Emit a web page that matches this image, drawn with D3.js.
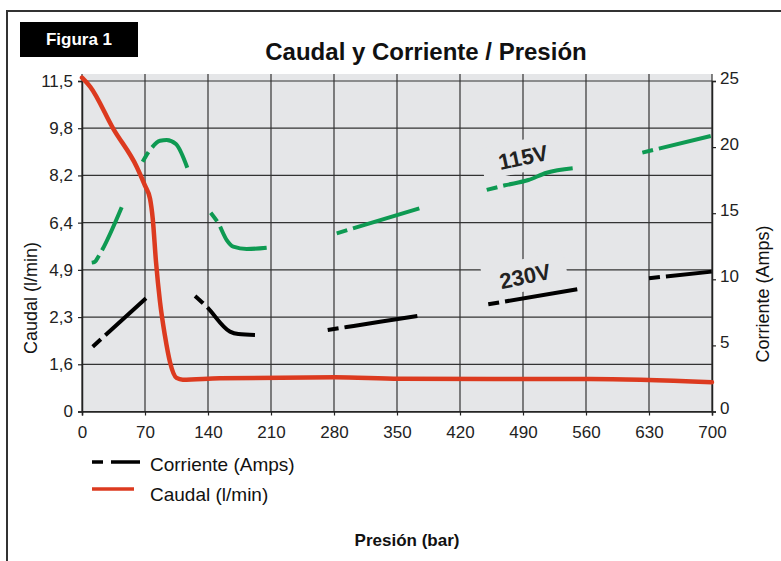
<!DOCTYPE html>
<html>
<head>
<meta charset="utf-8">
<script src="https://cdn.jsdelivr.net/npm/d3@7"></script>
<style>
  body { margin: 0; background: #fff; }
  svg { display: block; font-family: "Liberation Sans", Arial, sans-serif; }
</style>
</head>
<body>
<svg id="chart" width="781" height="561"></svg>
<script>
// pressure ticks (bar)
const presionTicks = [0, 70, 140, 210, 280, 350, 420, 490, 560, 630, 700];
// left axis labels, evenly spaced on the chart (l/min)
const caudalTicks = [0, 1.6, 2.3, 4.9, 6.4, 8.2, 9.8, 11.5];
// right axis ticks (Amps)
const ampTicks = [0, 5, 10, 15, 20, 25];

// Caudal curve: [bar, l/min]
const caudal = [
  [0, 11.62], [9, 11.3], [35, 9.77], [61, 8.48], [70, 7.81], [75.6, 7.31],
  [78.6, 6.55], [82.2, 5.16], [86.7, 3.13], [92.2, 2.02], [97.8, 1.63],
  [105, 1.14], [112, 1.08], [153, 1.13], [281, 1.16], [353, 1.11],
  [564, 1.1], [700, 0.99]
];

// Corriente 115V segments: [bar, Amps]
const amp115 = [
  [[10.8, 11.26], [14.4, 11.33], [18.1, 11.71], [44.1, 15.45]],
  [[67.4, 18.9], [75.6, 19.78], [86.7, 20.48], [94.1, 20.54], [104.4, 20.23], [117, 18.44]],
  [[143, 15.04], [151.4, 14.24], [160.8, 12.97], [168.1, 12.47], [183, 12.29], [205.2, 12.39]],
  [[283, 13.48], [374.8, 15.37]],
  [[449.7, 16.76], [470, 17.11], [495.9, 17.51], [516.3, 18.06], [545.2, 18.4]],
  [[622.6, 19.58], [698.6, 20.84]]
];

// Corriente 230V segments: [bar, Amps]
const amp230 = [
  [[11.9, 4.9], [71.1, 8.56]],
  [[125.6, 8.74], [137.8, 7.98], [164.4, 6.04], [173.7, 5.86], [192.2, 5.79]],
  [[273, 6.16], [294.1, 6.39], [331.1, 6.79], [372.6, 7.22]],
  [[451.4, 8.11], [550.3, 9.24]],
  [[630, 10.08], [699.7, 10.58]]
];

const svg = d3.select("#chart");

const plotL = 82, plotR = 712, plotT = 81, plotB = 411.5;

let x = d3.scaleLinear().domain([0, 700]).range([plotL, plotR]);

// left axis: each label sits on an evenly spaced grid line
let yPos = caudalTicks.map((d, i) => plotB - i * (plotB - plotT) / (caudalTicks.length - 1));
let yCaudal = d3.scaleLinear().domain(caudalTicks).range(yPos);

let yAmp = d3.scaleLinear().domain([0, 25]).range([plotB, plotT]);

let comma = d => String(d).replace(".", ",");

// outer frame
svg.append("path")
    .attr("d", "M7,561 V11 H781")
    .attr("fill", "none")
    .attr("stroke", "#333")
    .attr("stroke-width", 2);

// Figura 1 tag
svg.append("rect")
    .attr("x", 20).attr("y", 22)
    .attr("width", 118).attr("height", 35)
    .attr("fill", "#000");
svg.append("text")
    .attr("x", 79).attr("y", 45)
    .attr("text-anchor", "middle")
    .attr("fill", "#fff")
    .style("font-size", "17px").style("font-weight", "bold")
    .text("Figura 1");

// title
svg.append("text")
    .attr("x", 426).attr("y", 60)
    .attr("text-anchor", "middle")
    .attr("fill", "#111")
    .style("font-size", "24px").style("font-weight", "bold")
    .text("Caudal y Corriente / Presión");

// plot background
svg.append("rect")
    .attr("x", plotL).attr("y", 74)
    .attr("width", plotR - plotL).attr("height", plotB - 74)
    .attr("fill", "#e5e6e8");

// grid
let grid = svg.append("g").attr("stroke", "#333").attr("stroke-width", 1.2);
grid.selectAll(".h").data(caudalTicks).enter().append("line")
    .attr("x1", plotL).attr("x2", plotR)
    .attr("y1", d => yCaudal(d)).attr("y2", d => yCaudal(d));
grid.selectAll(".v").data(presionTicks).enter().append("line")
    .attr("x1", d => x(d)).attr("x2", d => x(d))
    .attr("y1", 74).attr("y2", plotB);

// voltage labels (background hides grid)
function voltLabel(txt, cx, cy) {
    let g = svg.append("g").attr("transform", "translate(" + cx + "," + cy + ") rotate(-12)");
    g.append("rect")
        .attr("x", -42).attr("y", -17)
        .attr("width", 84).attr("height", 32)
        .attr("fill", "#e5e6e8");
    g.append("text")
        .attr("text-anchor", "middle")
        .attr("y", 8)
        .attr("fill", "#222")
        .style("font-size", "22px").style("font-weight", "bold")
        .text(txt);
}
voltLabel("115V", 523, 157);
voltLabel("230V", 525, 276);

// axes
let axBottom = d3.axisBottom(x).tickValues(presionTicks).tickSize(4).tickPadding(10);
let axLeft = d3.axisLeft(yCaudal).tickValues(caudalTicks).tickSize(4).tickPadding(5).tickFormat(comma);
let axRight = d3.axisRight(yAmp).tickValues(ampTicks).tickSize(4).tickPadding(4);

function styleAxis(g) {
    g.select(".domain").attr("stroke", "#222").attr("stroke-width", 1.5);
    g.selectAll(".tick line").attr("stroke", "#222").attr("stroke-width", 1.2);
    g.selectAll("text").attr("fill", "#222").style("font-size", "17px").style("font-family", "'Liberation Sans', Arial, sans-serif");
}

svg.append("g").attr("transform", "translate(0," + plotB + ")").call(axBottom).call(styleAxis);
svg.append("g").attr("transform", "translate(" + plotL + ",0)").call(axLeft).call(styleAxis);
svg.append("g").attr("transform", "translate(" + plotR + ",0)").call(axRight).call(styleAxis)
    .selectAll(".tick text").attr("y", -3);

// current lines: short dash, gap, then solid
let lineAmp = d3.line().x(d => x(d[0])).y(d => yAmp(d[1])).curve(d3.curveMonotoneX);

function drawSegments(data, color) {
    svg.append("g").selectAll("path").data(data).enter().append("path")
        .attr("d", lineAmp)
        .attr("fill", "none")
        .attr("stroke", color)
        .attr("stroke-width", 4)
        .attr("stroke-dasharray", "11,6,2000");
}
drawSegments(amp115, "#0e9a52");
drawSegments(amp230, "#000");

// caudal curve
svg.append("path")
    .datum(caudal)
    .attr("d", d3.line().x(d => x(d[0])).y(d => yCaudal(d[1])).curve(d3.curveMonotoneX))
    .attr("fill", "none")
    .attr("stroke", "#dc3a1f")
    .attr("stroke-width", 4.5)
    .attr("stroke-linecap", "round");

// axis titles
svg.append("text")
    .attr("transform", "translate(37,298) rotate(-90)")
    .attr("text-anchor", "middle")
    .attr("fill", "#111")
    .style("font-size", "18px")
    .text("Caudal (l/min)");
svg.append("text")
    .attr("transform", "translate(769,294) rotate(-90)")
    .attr("text-anchor", "middle")
    .attr("fill", "#111")
    .style("font-size", "18px")
    .text("Corriente (Amps)");
svg.append("text")
    .attr("x", 407).attr("y", 546)
    .attr("text-anchor", "middle")
    .attr("fill", "#111")
    .style("font-size", "17px").style("font-weight", "bold")
    .text("Presión (bar)");

// legend
let legend = svg.append("g");
legend.append("path")
    .attr("d", "M92,462 H140")
    .attr("stroke", "#000").attr("stroke-width", 3.5)
    .attr("stroke-dasharray", "11,8,40");
legend.append("path")
    .attr("d", "M92,489 H134")
    .attr("stroke", "#dc3a1f").attr("stroke-width", 3.5);
legend.append("text")
    .attr("x", 150).attr("y", 471)
    .attr("fill", "#111").style("font-size", "19px")
    .text("Corriente (Amps)");
legend.append("text")
    .attr("x", 150).attr("y", 501)
    .attr("fill", "#111").style("font-size", "19px")
    .text("Caudal (l/min)");
</script>
</body>
</html>
